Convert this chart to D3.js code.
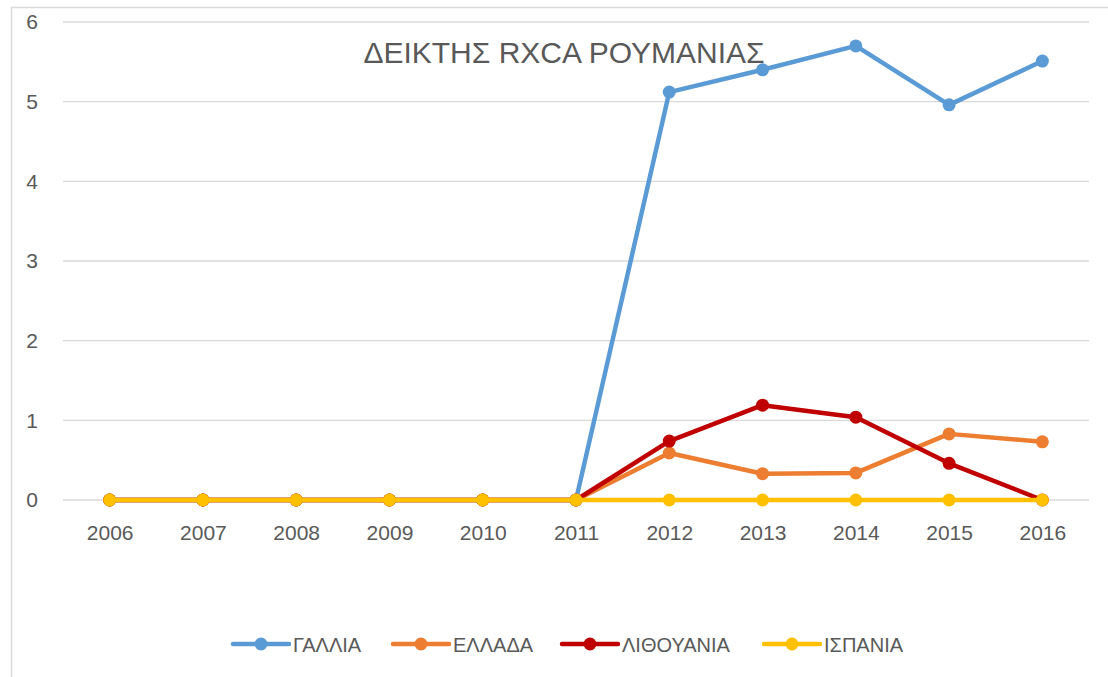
<!DOCTYPE html>
<html>
<head>
<meta charset="utf-8">
<script src="https://cdn.jsdelivr.net/npm/d3@7/dist/d3.min.js"></script>
<style>
  body { margin: 0; background: #fff; }
  text { font-family: "Liberation Sans", Arial, sans-serif; fill: #595959; }
</style>
</head>
<body>
<svg id="chart"></svg>
<script>
const years = [2006, 2007, 2008, 2009, 2010, 2011, 2012, 2013, 2014, 2015, 2016];
const yTicks = [0, 1, 2, 3, 4, 5, 6];
const gallia = [0, 0, 0, 0, 0, 0, 5.12, 5.40, 5.70, 4.96, 5.51];
const ellada = [0, 0, 0, 0, 0, 0, 0.59, 0.33, 0.34, 0.83, 0.73];
const lithouania = [0, 0, 0, 0, 0, 0, 0.74, 1.19, 1.04, 0.46, 0];
const ispania = [0, 0, 0, 0, 0, 0, 0, 0, 0, 0, 0];
const seriesNames = ["ΓΑΛΛΙΑ", "ΕΛΛΑΔΑ", "ΛΙΘΟΥΑΝΙΑ", "ΙΣΠΑΝΙΑ"];
const colors = ["#5B9BD5", "#ED7D31", "#C00000", "#FFC000"];
const title = "ΔΕΙΚΤΗΣ RXCA ΡΟΥΜΑΝΙΑΣ";

const series = [gallia, ellada, lithouania, ispania].map((v, i) => ({
  name: seriesNames[i], color: colors[i], values: v
}));

let width = 1108, height = 677;
let margin = ({top: 22, right: 19, bottom: 177, left: 63});

const svg = d3.select('#chart').attr('width', width).attr('height', height);

// chart frame
svg.append('path')
  .attr('d', `M11.5,${height} V7.5 H${width}`)
  .attr('fill', 'none')
  .attr('stroke', '#d9d9d9')
  .attr('stroke-width', 1.5);

let x = d3.scalePoint()
  .domain(years)
  .range([margin.left, width - margin.right])
  .padding(0.5);

let y = d3.scaleLinear()
  .domain([0, 6])
  .range([height - margin.bottom, margin.top]);

// gridlines
svg.append('g')
  .selectAll('line')
  .data(yTicks)
  .join('line')
  .attr('x1', margin.left)
  .attr('x2', width - margin.right)
  .attr('y1', d => y(d))
  .attr('y2', d => y(d))
  .attr('stroke', '#d9d9d9')
  .attr('stroke-width', 1.3);

let yAxis = g => g
  .attr("transform", `translate(${margin.left},0)`)
  .call(d3.axisLeft(y).tickValues(yTicks).tickSize(0).tickPadding(25).tickFormat(d3.format("d")))
  .call(g => g.select(".domain").remove())
  .call(g => g.selectAll("text").attr("font-size", 21).attr("fill", "#595959")
    .attr("font-family", "Liberation Sans, Arial, sans-serif"));

let xAxis = g => g
  .attr("transform", `translate(0,${y(0)})`)
  .call(d3.axisBottom(x).tickSize(0).tickPadding(25).tickFormat(d3.format("d")))
  .call(g => g.select(".domain").remove())
  .call(g => g.selectAll("text").attr("font-size", 21).attr("fill", "#595959")
    .attr("font-family", "Liberation Sans, Arial, sans-serif"));

svg.append('g').call(yAxis);
svg.append('g').call(xAxis);

// title
svg.append('text')
  .attr('x', 564)
  .attr('y', 63)
  .attr('text-anchor', 'middle')
  .attr('font-size', 30)
  .text(title);

const line = d3.line()
  .x((d, i) => x(years[i]))
  .y(d => y(d));

const groups = svg.selectAll('.series')
  .data(series)
  .join('g')
  .attr('class', 'series');

groups.append('path')
  .attr('d', d => line(d.values))
  .attr('fill', 'none')
  .attr('stroke', d => d.color)
  .attr('stroke-width', 4.5)
  .attr('stroke-linejoin', 'round');

groups.selectAll('circle')
  .data(d => d.values.map(v => ({v, color: d.color})))
  .join('circle')
  .attr('cx', (d, i) => x(years[i]))
  .attr('cy', d => y(d.v))
  .attr('r', 6.5)
  .attr('fill', d => d.color);

// legend
const legendX = [233, 393, 562, 764];
const legend = svg.append('g')
  .selectAll('g')
  .data(series)
  .join('g')
  .attr('transform', (d, i) => `translate(${legendX[i]},644)`);

legend.append('line')
  .attr('x1', 0).attr('x2', 56)
  .attr('stroke', d => d.color)
  .attr('stroke-width', 4.5)
  .attr('stroke-linecap', 'round');
legend.append('circle')
  .attr('cx', 28).attr('r', 6.5)
  .attr('fill', d => d.color);
legend.append('text')
  .attr('x', 60)
  .attr('y', 8)
  .attr('font-size', 20)
  .text(d => d.name);
</script>
</body>
</html>
